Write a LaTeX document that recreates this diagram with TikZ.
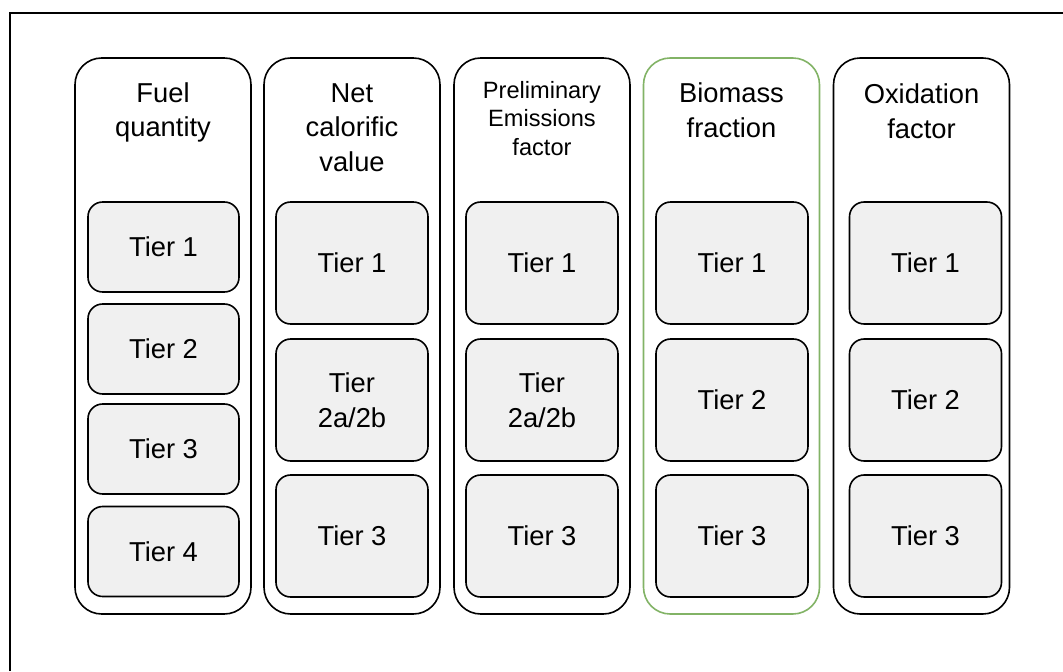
\documentclass[tikz,border=0pt]{standalone}
\usepackage{fontspec}
\setmainfont{Liberation Sans}
\definecolor{tierfill}{HTML}{F0F0F0}
\definecolor{biogreen}{HTML}{82B366}
\begin{document}
\begin{tikzpicture}[x=0.75pt,y=-0.75pt,
  column/.style={draw=black,line width=1.2pt,rounded corners=20pt,minimum width=132pt,minimum height=417pt,inner sep=0pt},
  greencol/.style={column,draw=biogreen},
  tierbox/.style={draw=black,line width=1.2pt,fill=tierfill,rounded corners=11pt,minimum width=114pt,minimum height=91.5pt,inner sep=0pt,align=center,font=\fontsize{20.5}{26}\selectfont},
  smalltier/.style={tierbox,minimum width=113.25pt,minimum height=67.5pt},
  title/.style={inner sep=0pt,align=center,font=\fontsize{20.5}{26}\selectfont},
  smalltitle/.style={inner sep=0pt,align=center,font=\fontsize{17.7}{21.4}\selectfont}]
\useasboundingbox (0,0) rectangle (1063,671);
\coordinate (fb) at (10,671);
\coordinate (fc) at (10,13);
\coordinate (fr) at (1063,13);
\draw[line width=1.5pt] (fb) -- (fc) -- (fr);
% columns
\node[column] (c1) at (163,336) {};
\node[column] (c2) at (352,336) {};
\node[column] (c3) at (542,336) {};
\node[greencol] (c4) at (731.5,336) {};
\node[column] (c5) at (921.5,336) {};
% titles
\node[title] (t1) at (163,112.5) {Fuel\\quantity};
\node[title] (t2) at (352,127.5) {Net\\calorific\\value};
\node[smalltitle] (t3) at (542,118.5) {Preliminary\\Emissions\\factor};
\node[title] (t4) at (731.5,110.5) {Biomass\\fraction};
\node[title] (t5) at (921.5,111) {Oxidation\\factor};
% column 1 tiers
\node[smalltier] (c1a) at (163.5,247) {Tier 1};
\node[smalltier] (c1b) at (163.5,349) {Tier 2};
\node[smalltier] (c1c) at (163.5,449) {Tier 3};
\node[smalltier] (c1d) at (163.5,551.5) {Tier 4};
% column 2
\node[tierbox] (c2a) at (352,263) {Tier 1};
\node[tierbox] (c2b) at (352,400) {Tier\\2a/2b};
\node[tierbox] (c2c) at (352,536) {Tier 3};
% column 3
\node[tierbox] (c3a) at (542,263) {Tier 1};
\node[tierbox] (c3b) at (542,400) {Tier\\2a/2b};
\node[tierbox] (c3c) at (542,536) {Tier 3};
% column 4
\node[tierbox] (c4a) at (732,263) {Tier 1};
\node[tierbox] (c4b) at (732,400) {Tier 2};
\node[tierbox] (c4c) at (732,536) {Tier 3};
% column 5
\node[tierbox] (c5a) at (925.5,263) {Tier 1};
\node[tierbox] (c5b) at (925.5,400) {Tier 2};
\node[tierbox] (c5c) at (925.5,536) {Tier 3};
\end{tikzpicture}
\end{document}
